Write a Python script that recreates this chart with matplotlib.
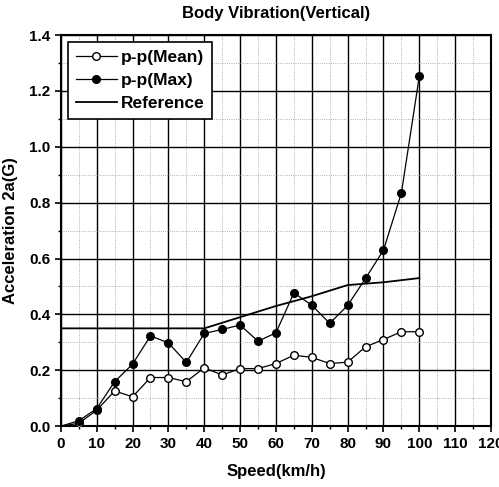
import matplotlib.pyplot as plt
from matplotlib.ticker import MultipleLocator

speed = [0, 5, 10, 15, 20, 25, 30, 35, 40, 45, 50, 55, 60, 65, 70, 75, 80, 85, 90, 95, 100]
pp_mean = [0.0, 0.01, 0.057, 0.126, 0.105, 0.174, 0.174, 0.159, 0.209, 0.183, 0.206,
           0.206, 0.224, 0.254, 0.246, 0.224, 0.229, 0.284, 0.310, 0.338, 0.338]
pp_max = [0.0, 0.019, 0.063, 0.159, 0.222, 0.323, 0.298, 0.228, 0.332, 0.346, 0.362,
          0.304, 0.334, 0.477, 0.433, 0.368, 0.432, 0.529, 0.630, 0.835, 1.253]
ref_speed = [0, 40, 50, 60, 70, 80, 90, 100]
ref_val = [0.35, 0.35, 0.39, 0.43, 0.465, 0.505, 0.515, 0.53]

plt.rcParams['font.family'] = ['Liberation Sans', 'DejaVu Sans']
plt.rcParams['font.weight'] = 'bold'

fig = plt.figure(figsize=(4.99, 4.87), dpi=100)
ax = fig.add_axes([0.122, 0.125, 0.862, 0.803])

marks = list(range(1, len(speed)))
ax.plot(speed, pp_mean, color='black', lw=0.9, marker='o', markersize=5.5,
        markerfacecolor='white', markeredgecolor='black', markevery=marks, label='p-p(Mean)', zorder=4)
ax.plot(speed, pp_max, color='black', lw=0.9, marker='o', markersize=5.5,
        markerfacecolor='black', markevery=marks, label='p-p(Max)', zorder=5)
ax.plot(ref_speed, ref_val, color='black', lw=1.3, label='Reference', zorder=3)

ax.set_xlim(0, 120)
ax.set_ylim(0, 1.4)
ax.xaxis.set_major_locator(MultipleLocator(10))
ax.xaxis.set_minor_locator(MultipleLocator(5))
ax.yaxis.set_major_locator(MultipleLocator(0.2))
ax.yaxis.set_minor_locator(MultipleLocator(0.1))
ax.yaxis.set_major_formatter(lambda v, p: f'{v:.1f}')

ax.grid(which='major', color='black', lw=1.0)
ax.grid(which='minor', color='#999999', lw=0.6, ls=':')
ax.tick_params(which='major', direction='out', length=4, width=1.2, labelsize=11)
ax.tick_params(which='minor', direction='out', length=2.5, width=1)
for s in ax.spines.values():
    s.set_linewidth(1.5)

ax.set_title('Body Vibration(Vertical)', fontsize=12, fontweight='bold', pad=12)
ax.set_xlabel('Speed(km/h)', fontsize=12, fontweight='bold', labelpad=10)
ax.set_ylabel('Acceleration 2a(G)', fontsize=12, fontweight='bold', labelpad=8)

leg = ax.legend(loc='upper left', fontsize=12.5, frameon=True, fancybox=False, framealpha=1,
                edgecolor='black', borderaxespad=0.4, handlelength=2.4, handletextpad=0.2,
                labelspacing=0.45, borderpad=0.45)
leg.get_frame().set_linewidth(1.2)

fig.savefig('out.png', dpi=100)
